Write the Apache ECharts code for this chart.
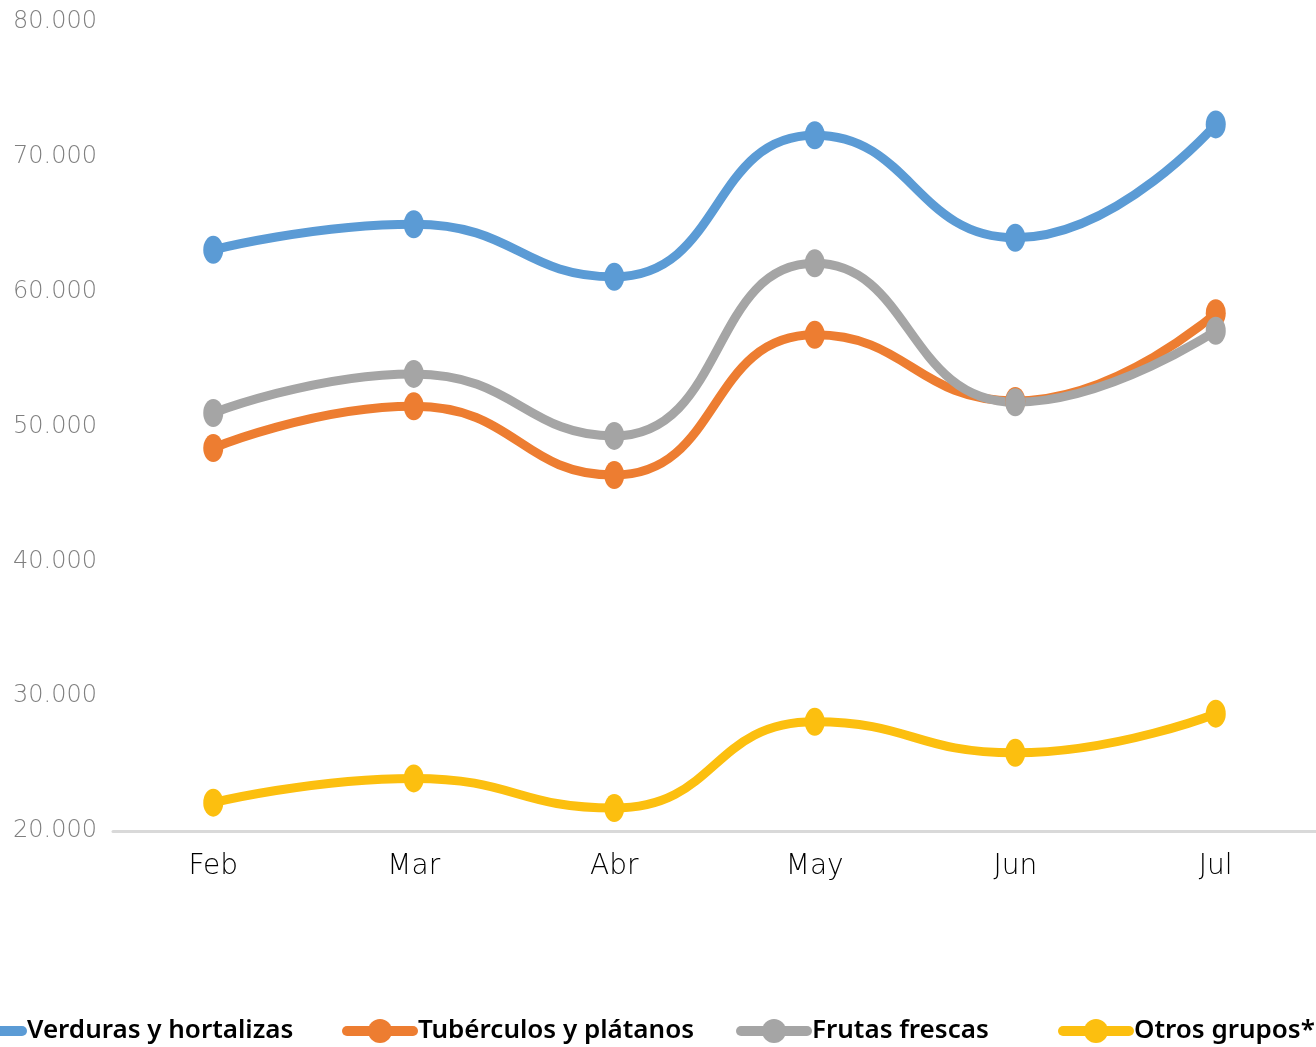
<!DOCTYPE html>
<html lang="es">
<head>
    <meta charset="UTF-8">
    <title>Grupos de alimentos</title>
    <script src="https://cdn.jsdelivr.net/npm/echarts@6/dist/echarts.min.js"></script>
    <style>
        html, body { margin: 0; padding: 0; background: #fff; }
        #main { width: 1316px; height: 1047px; }
    </style>
</head>
<body>
    <div id="main"></div>
<script>
    // categorias (meses)
    var months = ['Feb', 'Mar', 'Abr', 'May', 'Jun', 'Jul'];

    // valores
    var verduras = [63100, 65000, 61100, 71600, 64000, 72400];
    var tuberculos = [48400, 51500, 46400, 56800, 51900, 58400];
    var frutas = [51000, 53900, 49300, 62100, 51800, 57100];
    var otros = [22100, 23900, 21700, 28100, 25800, 28700];

    var names = ['Verduras y hortalizas', 'Tubérculos y plátanos', 'Frutas frescas', 'Otros grupos*'];
    var colors = ['#5b9bd5', '#ed7d31', '#a5a5a5', '#fcbf0f'];
    var seriesData = [verduras, tuberculos, frutas, otros];
    var legendLeft = [-49, 342, 736, 1058];

    function fmt(v) {
        return (v / 1000).toFixed(3);
    }

    var chart = echarts.init(document.getElementById('main'));

    var legends = [];
    var series = [];
    for (let i = 0; i < names.length; i++) {
        legends.push({
            data: [names[i]],
            left: legendLeft[i],
            top: 1018,
            padding: 0,
            itemWidth: 66,
            itemHeight: 30,
            lineStyle: { width: 10, cap: 'round' },
            textStyle: {
                fontFamily: 'Noto Sans',
                fontWeight: 600,
                fontSize: 26,
                color: '#000'
            }
        });
        series.push({
            name: names[i],
            type: 'line',
            smooth: 0.5,
            data: seriesData[i],
            symbol: 'circle',
            symbolSize: [20, 28],
            color: colors[i],
            lineStyle: { width: 9, cap: 'round' },
            itemStyle: { color: colors[i] }
        });
    }

    var option = {
        animation: false,
        legend: legends,
        grid: {
            left: 113,
            right: 0,
            top: 22,
            bottom: 216
        },
        xAxis: {
            type: 'category',
            data: months,
            axisLine: { lineStyle: { color: '#d9d9d9', width: 3 } },
            axisTick: { show: false },
            axisLabel: {
                margin: 22,
                fontFamily: 'DejaVu Sans',
                fontWeight: 200,
                fontSize: 28,
                color: '#000'
            }
        },
        yAxis: {
            type: 'value',
            min: 20000,
            max: 80000,
            interval: 10000,
            splitLine: { show: false },
            axisLine: { show: false },
            axisTick: { show: false },
            axisLabel: {
                margin: 16,
                fontFamily: 'DejaVu Sans',
                fontWeight: 200,
                fontSize: 24,
                color: '#7f7f7f',
                formatter: fmt
            }
        },
        series: series
    };

    chart.setOption(option);
</script>
</body>
</html>
